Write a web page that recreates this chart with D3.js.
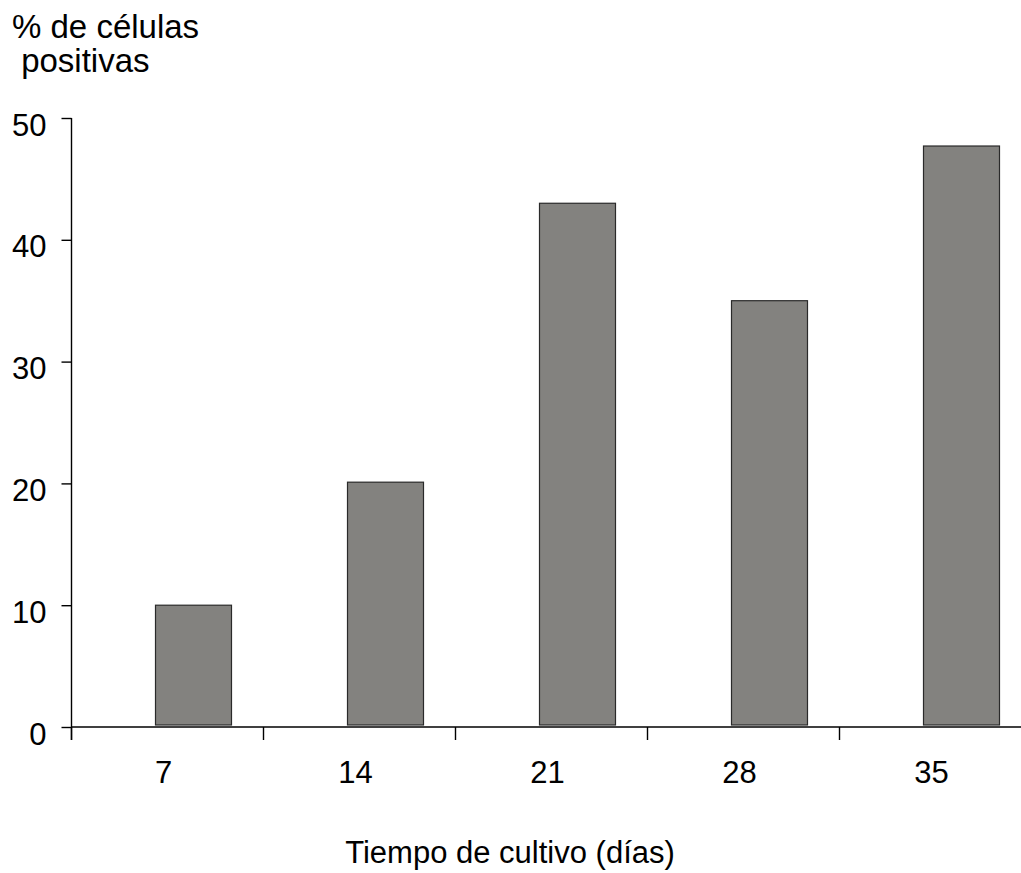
<!DOCTYPE html>
<html>
<head>
<meta charset="utf-8">
<script src="https://cdn.jsdelivr.net/npm/d3@7"></script>
<style>
	body { margin: 0; background: #fff; }
	text { font-family: "Liberation Sans", Arial, sans-serif; fill: #000; }
</style>
</head>
<body>
<div id="chart"></div>
<script>
const days = ["7", "14", "21", "28", "35"];
const positivePct = [10, 20.1, 43, 35, 47.7];
const yTicks = [0, 10, 20, 30, 40, 50];

const width = 1021;
const height = 873;
const axisX = 71.5;
const axisY = 727;
const bandW = 192;
const barOffset = 84;
const barWidth = 76;

const svg = d3
	.select("#chart")
	.append("svg")
	.attr("width", width)
	.attr("height", height);

const x = d3
	.scaleBand()
	.domain(days)
	.range([axisX, axisX + bandW * days.length])
	.padding(0);

const y = d3.scaleLinear().domain([0, 50]).range([axisY, 118]);

// bars
svg.selectAll(".bar")
	.data(days.map((d, i) => ({ day: d, value: positivePct[i] })))
	.enter()
	.append("rect")
	.attr("class", "bar")
	.attr("x", (d) => x(d.day) + barOffset)
	.attr("y", (d) => y(d.value))
	.attr("width", barWidth)
	.attr("height", (d) => y(0) - y(d.value) - 2)
	.attr("fill", "#83827f")
	.attr("stroke", "#2a2a2a")
	.attr("stroke-width", 1.2);

// y axis
const yAxis = svg
	.append("g")
	.attr("transform", `translate(${axisX},0)`)
	.call(d3.axisLeft(y).tickValues(yTicks).tickSize(10).tickSizeOuter(0).tickPadding(15));
yAxis.select(".domain").remove();
yAxis.selectAll("line").attr("stroke", "#000").attr("stroke-width", 1.4);
yAxis.selectAll("text").attr("font-size", "31px").attr("dy", "17px").style("font-family", '"Liberation Sans", Arial, sans-serif');
svg.append("line")
	.attr("x1", axisX).attr("x2", axisX)
	.attr("y1", y(50)).attr("y2", axisY + 13)
	.attr("stroke", "#000").attr("stroke-width", 1.4);

// x axis
svg.append("line")
	.attr("x1", axisX).attr("x2", width)
	.attr("y1", axisY).attr("y2", axisY)
	.attr("stroke", "#000").attr("stroke-width", 1.4);
svg.selectAll(".xtick")
	.data(days)
	.enter()
	.append("line")
	.attr("class", "xtick")
	.attr("x1", (d) => x(d)).attr("x2", (d) => x(d))
	.attr("y1", axisY).attr("y2", axisY + 13)
	.attr("stroke", "#000").attr("stroke-width", 1.4);
svg.selectAll(".xlabel")
	.data(days)
	.enter()
	.append("text")
	.attr("class", "xlabel")
	.attr("x", (d) => x(d) + x.bandwidth() / 2 - 4)
	.attr("y", 783)
	.attr("text-anchor", "middle")
	.attr("font-size", "31px")
	.text((d) => d);

// titles
svg.append("text")
	.attr("x", 12)
	.attr("y", 38)
	.attr("font-size", "33px")
	.text("% de células");
svg.append("text")
	.attr("x", 12)
	.attr("y", 72)
	.attr("font-size", "33px")
	.attr("xml:space", "preserve")
	.style("white-space", "pre")
	.text(" positivas");
svg.append("text")
	.attr("x", 510)
	.attr("y", 863)
	.attr("text-anchor", "middle")
	.attr("font-size", "31px")
	.text("Tiempo de cultivo (días)");
</script>
</body>
</html>
